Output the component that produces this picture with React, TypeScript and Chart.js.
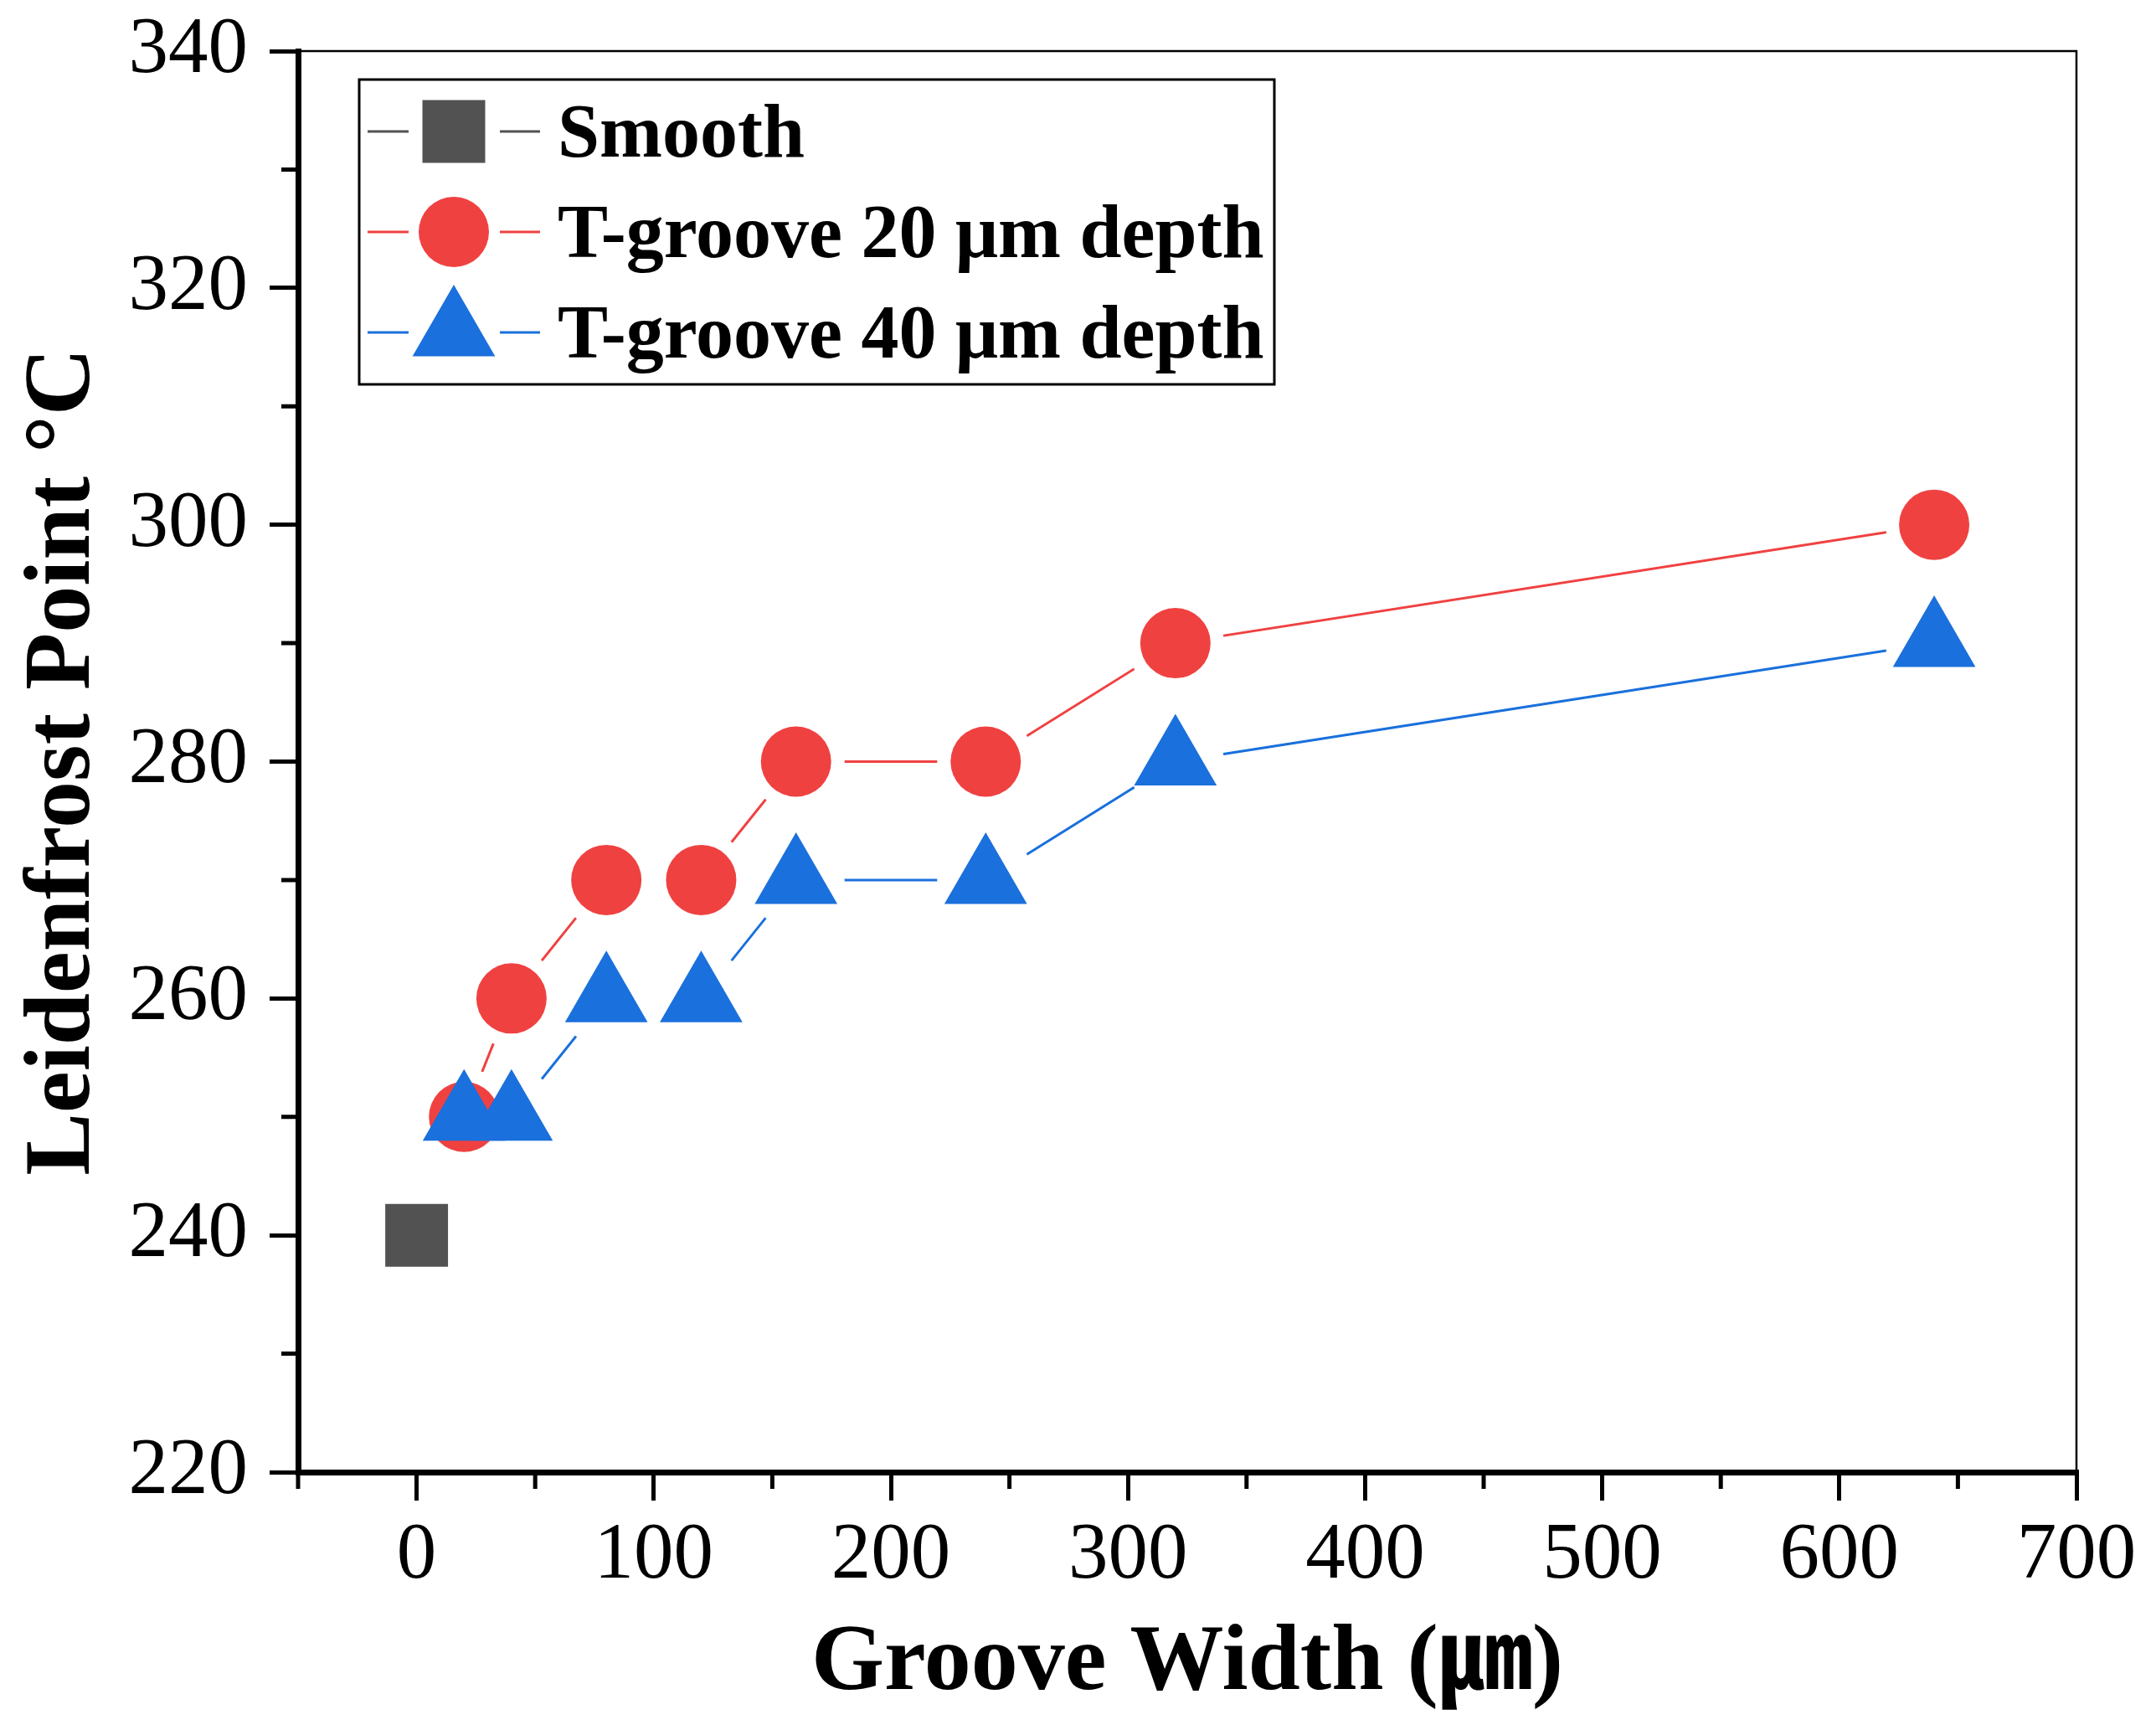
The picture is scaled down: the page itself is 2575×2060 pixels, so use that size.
import { useEffect, useRef } from "react"
import { Chart, registerables } from "chart.js"
import { drawPoint } from "chart.js/helpers"

Chart.register(...registerables)

// Values
const grooveWidths = [20, 40, 80, 120, 160, 240, 320, 640]
const depth20Points = [250, 260, 270, 270, 280, 280, 290, 300]
const depth40Points = [250, 250, 260, 260, 270, 270, 280, 290]
const smoothWidths = [0]
const smoothPoints = [240]

const xTickValues = [0, 100, 200, 300, 400, 500, 600, 700]
const xMinorTicks = [-50, 50, 150, 250, 350, 450, 550, 650]
const yMinorTicks = [230, 250, 270, 290, 310, 330]

const seriesLabels = ["Smooth", "T-groove 20 μm depth", "T-groove 40 μm depth"]

const FONT = "'Liberation Serif', 'Times New Roman', 'Noto Sans CJK JP', serif"
const GRAY = "#525252"
const RED = "#F04141"
const BLUE = "#1A70DC"

const markerStyles = [
  { color: GRAY, pointStyle: "rect", radius: 53 },
  { color: RED, pointStyle: "circle", radius: 42 },
  { color: BLUE, pointStyle: "triangle", radius: 57 },
]

const toXY = (xs: number[], ys: number[]) => xs.map((x, i) => ({ x, y: ys[i] }))

// top/right frame, minor ticks and the boxed legend
const framePlugin = {
  id: "frameAndLegend",
  afterDraw(chart: Chart) {
    const { ctx, chartArea: a } = chart
    const x = chart.scales.x
    const y = chart.scales.y
    ctx.save()
    ctx.strokeStyle = "#000"
    ctx.lineWidth = 2.5
    ctx.beginPath()
    ctx.moveTo(a.left, a.top)
    ctx.lineTo(a.right, a.top)
    ctx.lineTo(a.right, a.bottom)
    ctx.stroke()

    ctx.lineWidth = 5
    ctx.beginPath()
    xMinorTicks.forEach((v) => {
      const px = x.getPixelForValue(v)
      ctx.moveTo(px, a.bottom)
      ctx.lineTo(px, a.bottom + 20)
    })
    yMinorTicks.forEach((v) => {
      const py = y.getPixelForValue(v)
      ctx.moveTo(a.left, py)
      ctx.lineTo(a.left - 20, py)
    })
    ctx.stroke()

    // legend
    const bx = a.left + 73
    const by = a.top + 34
    ctx.lineWidth = 3
    ctx.strokeRect(bx, by, 1093, 364)
    ctx.font = `bold 90px ${FONT}`
    ctx.textBaseline = "middle"
    ctx.textAlign = "left"
    seriesLabels.forEach((label, i) => {
      const ry = a.top + 96 + i * 120
      const st = markerStyles[i]
      ctx.strokeStyle = st.color
      ctx.lineWidth = 3
      ctx.beginPath()
      ctx.moveTo(a.left + 83, ry)
      ctx.lineTo(a.left + 132, ry)
      ctx.moveTo(a.left + 241, ry)
      ctx.lineTo(a.left + 289, ry)
      ctx.stroke()
      ctx.fillStyle = st.color
      drawPoint(ctx, { pointStyle: st.pointStyle as any, radius: st.radius, rotation: 0, borderWidth: 0 }, a.left + 186, ry)
      ctx.fillStyle = "#000"
      ctx.fillText(label, a.left + 310, ry + 7)
    })
    ctx.restore()
  },
}

export default function App() {
  const chartRef = useRef<HTMLCanvasElement>(null)
  const chartInstance = useRef<Chart | null>(null)

  useEffect(() => {
    document.body.style.margin = "0"
    if (!chartRef.current) return
    if (chartInstance.current) chartInstance.current.destroy()
    const ctx = chartRef.current.getContext("2d")
    if (!ctx) return

    const lineSeries = [
      { data: toXY(grooveWidths, depth20Points), color: RED },
      { data: toXY(grooveWidths, depth40Points), color: BLUE },
    ]

    const datasets: any[] = []
    // connecting lines (bottom)
    lineSeries.forEach((s, i) => {
      datasets.push({
        data: s.data,
        showLine: true,
        borderColor: s.color,
        borderWidth: 3,
        pointRadius: 0,
        order: 40 - i,
        clip: false,
      })
    })
    // white knock-outs to open gaps in the lines near markers
    lineSeries.forEach((s, i) => {
      datasets.push({
        data: s.data,
        showLine: false,
        pointRadius: 58,
        pointStyle: "circle",
        pointBackgroundColor: "#fff",
        pointBorderWidth: 0,
        order: 30 - i,
        clip: false,
      })
    })
    // markers (top)
    const markerData = [
      toXY(smoothWidths, smoothPoints),
      toXY(grooveWidths, depth20Points),
      toXY(grooveWidths, depth40Points),
    ]
    markerData.forEach((d, i) => {
      datasets.push({
        label: seriesLabels[i],
        data: d,
        showLine: false,
        pointRadius: markerStyles[i].radius,
        pointStyle: markerStyles[i].pointStyle,
        pointBackgroundColor: markerStyles[i].color,
        pointBorderWidth: 0,
        order: 20 - i,
        clip: false,
      })
    })

    chartInstance.current = new Chart(ctx, {
      type: "scatter",
      data: { datasets },
      options: {
        animation: false,
        responsive: false,
        events: [],
        layout: { padding: { left: 0, top: 61, right: 95, bottom: 0 } },
        plugins: {
          legend: { display: false },
          tooltip: { enabled: false },
        },
        scales: {
          x: {
            type: "linear",
            min: -50,
            max: 700,
            afterBuildTicks: (s: any) => {
              s.ticks = xTickValues.map((value) => ({ value }))
            },
            afterFit: (s: any) => {
              s.height = 302
              s.paddingLeft = 0
              s.paddingRight = 0
            },
            border: { display: true, color: "#000", width: 7 },
            grid: {
              display: true,
              drawOnChartArea: false,
              drawTicks: true,
              tickLength: 34,
              tickWidth: 5,
              tickColor: "#000",
              lineWidth: 5,
              color: "#000",
            },
            ticks: {
              padding: 10,
              color: "#000",
              maxRotation: 0,
              autoSkip: false,
              font: { family: FONT, size: 95 },
            },
            title: {
              display: true,
              text: "Groove Width (㎛)",
              color: "#000",
              font: { family: FONT, size: 112, weight: "bold" },
              padding: { top: 0, bottom: 5 },
            },
          },
          y: {
            type: "linear",
            min: 220,
            max: 340,
            afterFit: (s: any) => {
              s.width = 356
              s.paddingTop = 0
              s.paddingBottom = 0
            },
            border: { display: true, color: "#000", width: 7 },
            grid: {
              display: true,
              drawOnChartArea: false,
              drawTicks: true,
              tickLength: 34,
              tickWidth: 5,
              tickColor: "#000",
              lineWidth: 5,
              color: "#000",
            },
            ticks: {
              stepSize: 20,
              padding: 26,
              color: "#000",
              font: { family: FONT, size: 95 },
            },
            title: {
              display: true,
              text: "Leidenfrost Point °C",
              color: "#000",
              font: { family: FONT, size: 112, weight: "bold" },
              padding: { top: 10, bottom: 0 },
            },
          },
        },
      },
      plugins: [framePlugin],
    })

    return () => {
      if (chartInstance.current) {
        chartInstance.current.destroy()
        chartInstance.current = null
      }
    }
  }, [])

  return (
    <div style={{ width: 2575, height: 2060 }}>
      <canvas ref={chartRef} width={2575} height={2060} />
    </div>
  )
}
